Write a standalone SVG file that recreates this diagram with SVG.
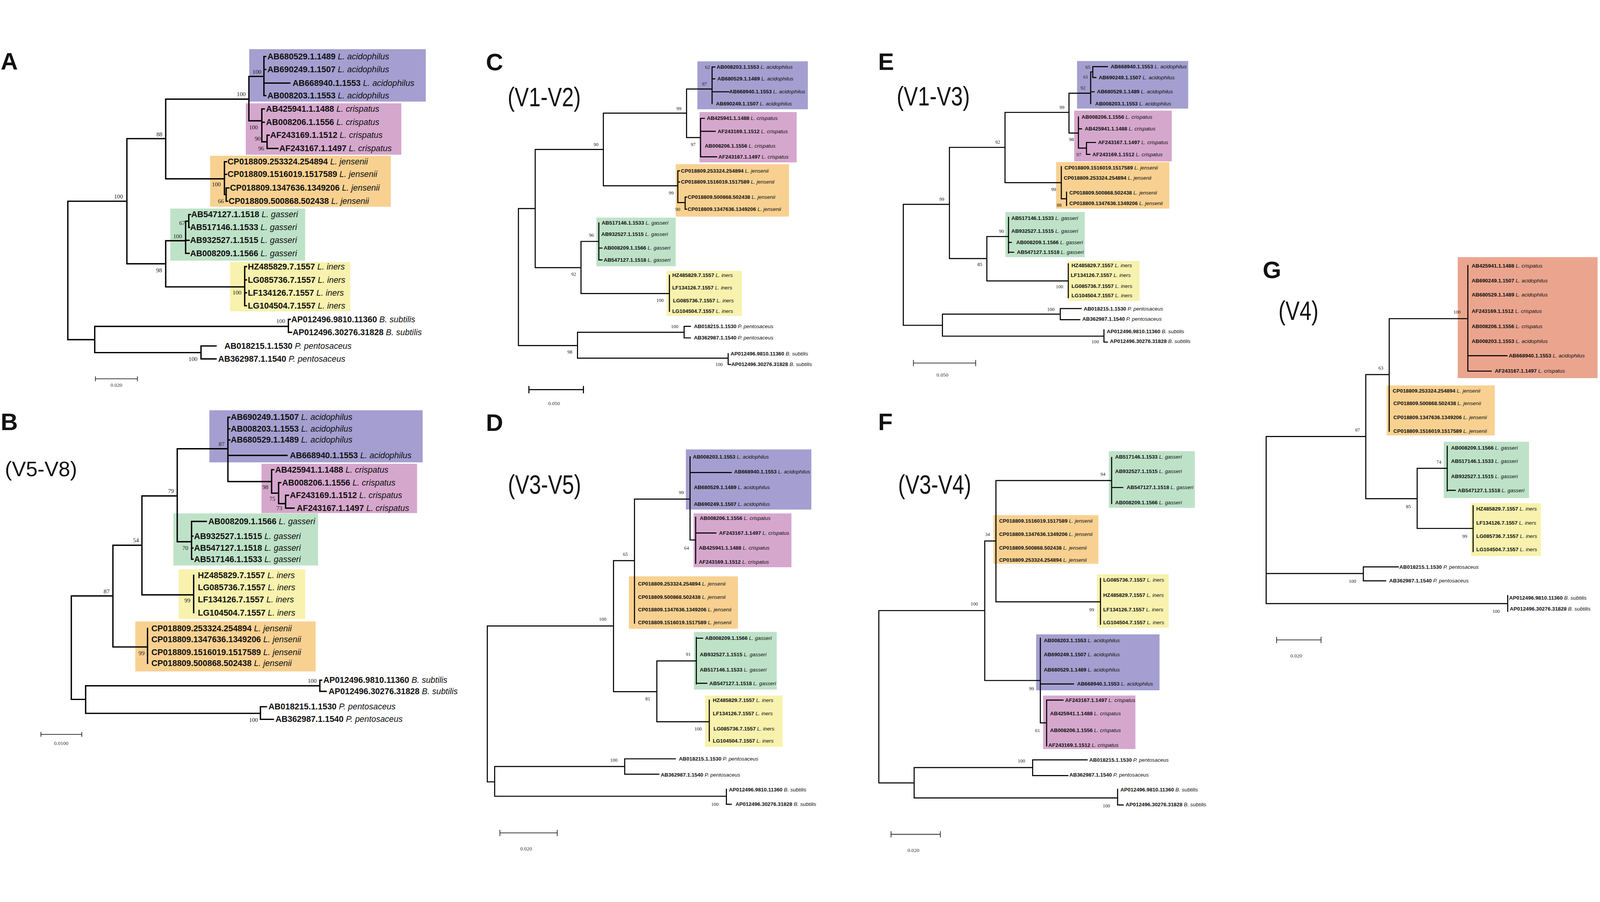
<svg xmlns="http://www.w3.org/2000/svg" width="4577" height="2309" viewBox="0 0 4577 2309">
<style>
svg{width:100vw;height:100vh}
text{font-family:"Liberation Sans",Arial,sans-serif;fill:#111}
.a{font-weight:bold}
.s{font-style:italic}
.big text{font-size:24px}
.sm text{font-size:15px}
.bsA{font-family:"Liberation Serif","Times New Roman",serif;font-size:17px;text-anchor:middle;fill:#222}
.bsC{font-family:"Liberation Serif","Times New Roman",serif;font-size:14px;text-anchor:middle;fill:#222}
.tree{fill:none;stroke:#000;stroke-width:3.8;stroke-linecap:square}
.tree2{fill:none;stroke:#000;stroke-width:3;stroke-linecap:square}
.bar{fill:none;stroke:#222;stroke-width:2}
.lbl{font-size:68px;font-weight:bold}
.reg{font-size:76px}
.scl{font-family:"Liberation Serif",serif;font-size:15px;text-anchor:middle;fill:#333}
.pu{fill:#a49fd0}.pk{fill:#d6a7cd}.or{fill:#f8d191}.gr{fill:#bee2c8}.ye{fill:#f8f2ae}.sa{fill:#eba58e}
</style>
<rect width="4577" height="2309" fill="#fff"/>

<!-- ================= PANEL A ================= -->
<g id="panelA">
<text class="lbl" x="2" y="63">A</text>
<g id="A-acidophilus" class="big"><rect class="pu" x="713" y="5" width="505" height="150"/>
<text x="765" y="34"><tspan class="a">AB680529.1.1489</tspan> <tspan class="s">L. acidophilus</tspan></text>
<text x="765" y="71"><tspan class="a">AB690249.1.1507</tspan> <tspan class="s">L. acidophilus</tspan></text>
<text x="837" y="110"><tspan class="a">AB668940.1.1553</tspan> <tspan class="s">L. acidophilus</tspan></text>
<text x="765" y="146"><tspan class="a">AB008203.1.1553</tspan> <tspan class="s">L. acidophilus</tspan></text></g>
<g id="A-crispatus" class="big"><rect class="pk" x="703" y="160" width="445" height="147"/>
<text x="761" y="184"><tspan class="a">AB425941.1.1488</tspan> <tspan class="s">L. crispatus</tspan></text>
<text x="761" y="222"><tspan class="a">AB008206.1.1556</tspan> <tspan class="s">L. crispatus</tspan></text>
<text x="773" y="259"><tspan class="a">AF243169.1.1512</tspan> <tspan class="s">L. crispatus</tspan></text>
<text x="799" y="297"><tspan class="a">AF243167.1.1497</tspan> <tspan class="s">L. crispatus</tspan></text></g>
<g id="A-jensenii" class="big"><rect class="or" x="601" y="310" width="517" height="146"/>
<text x="651" y="335"><tspan class="a">CP018809.253324.254894</tspan> <tspan class="s">L. jensenii</tspan></text>
<text x="651" y="371"><tspan class="a">CP018809.1516019.1517589</tspan> <tspan class="s">L. jensenii</tspan></text>
<text x="658" y="410"><tspan class="a">CP018809.1347636.1349206</tspan> <tspan class="s">L. jensenii</tspan></text>
<text x="654" y="448"><tspan class="a">CP018809.500868.502438</tspan> <tspan class="s">L. jensenii</tspan></text></g>
<g id="A-gasseri" class="big"><rect class="gr" x="487" y="461" width="386" height="149"/>
<text x="547" y="486"><tspan class="a">AB547127.1.1518</tspan> <tspan class="s">L. gasseri</tspan></text>
<text x="544" y="523"><tspan class="a">AB517146.1.1533</tspan> <tspan class="s">L. gasseri</tspan></text>
<text x="544" y="560"><tspan class="a">AB932527.1.1515</tspan> <tspan class="s">L. gasseri</tspan></text>
<text x="544" y="597"><tspan class="a">AB008209.1.1566</tspan> <tspan class="s">L. gasseri</tspan></text></g>
<g id="A-iners" class="big"><rect class="ye" x="658" y="614" width="344" height="141"/>
<text x="709" y="635"><tspan class="a">HZ485829.7.1557</tspan> <tspan class="s">L. iners</tspan></text>
<text x="709" y="673"><tspan class="a">LG085736.7.1557</tspan> <tspan class="s">L. iners</tspan></text>
<text x="709" y="710"><tspan class="a">LF134126.7.1557</tspan> <tspan class="s">L. iners</tspan></text>
<text x="709" y="747"><tspan class="a">LG104504.7.1557</tspan> <tspan class="s">L. iners</tspan></text></g>
<g id="A-outgroup" class="big">
<text x="833" y="786"><tspan class="a">AP012496.9810.11360</tspan> <tspan class="s">B. subtilis</tspan></text>
<text x="837" y="823"><tspan class="a">AP012496.30276.31828</tspan> <tspan class="s">B. subtilis</tspan></text>
<text x="642" y="862"><tspan class="a">AB018215.1.1530</tspan> <tspan class="s">P. pentosaceus</tspan></text>
<text x="624" y="899"><tspan class="a">AB362987.1.1540</tspan> <tspan class="s">P. pentosaceus</tspan></text></g>
<g id="A-connectors"><path class="tree" d="M194 440V836M194 440H363M363 261V619M363 261H474M474 148V376M474 148H712M712 83V210M712 83H755M755 26V138M755 26H760M755 63H760M755 102H829M755 138H760M712 210H749M749 176V270M749 176H756M749 214H756M749 270H764M764 251V289M764 251H770M764 289H795M474 376H642M642 327V421M642 327H648M642 363H648M642 421H647M647 402V440M647 402H655M647 440H651M363 619H474M474 553V685M474 553H531M531 497V589M531 497H540M540 478V515M540 478H545M540 515H542M531 552H541M531 589H541M474 685H700M700 627V739M700 627H705M700 665H705M700 702H705M700 739H705M194 836H271M271 798V873M271 798H825M825 778V815M825 778H830M825 815H834M271 873H575M575 854V891M575 854H618M575 891H618"/></g>
<g id="A-bootstrap">
<text class="bsA" x="339" y="432">100</text><text class="bsA" x="456" y="254">88</text><text class="bsA" x="690" y="139">100</text><text class="bsA" x="735" y="76">100</text><text class="bsA" x="725" y="234">100</text><text class="bsA" x="737" y="267">90</text><text class="bsA" x="747" y="295">96</text><text class="bsA" x="619" y="398">100</text><text class="bsA" x="632" y="446">66</text><text class="bsA" x="521" y="508">67</text><text class="bsA" x="508" y="546">100</text><text class="bsA" x="455" y="643">98</text><text class="bsA" x="678" y="707">100</text><text class="bsA" x="803" y="789">100</text><text class="bsA" x="552" y="897">100</text></g>
<g id="A-scale"><path class="bar" d="M273 948H393M273 941V955M393 941V955"/><text class="scl" x="333" y="971">0.020</text></g>
</g>

<!-- ================= PANEL B ================= -->
<g id="panelB">
<text class="lbl" x="2" y="1095">B</text>
<text x="14" y="1227" font-size="60">(V5-V8)</text>
<g id="B-acidophilus" class="big"><rect class="pu" x="599" y="1038" width="610" height="149"/>
<text x="660" y="1066"><tspan class="a">AB690249.1.1507</tspan> <tspan class="s">L. acidophilus</tspan></text>
<text x="660" y="1099"><tspan class="a">AB008203.1.1553</tspan> <tspan class="s">L. acidophilus</tspan></text>
<text x="660" y="1131"><tspan class="a">AB680529.1.1489</tspan> <tspan class="s">L. acidophilus</tspan></text>
<text x="829" y="1175"><tspan class="a">AB668940.1.1553</tspan> <tspan class="s">L. acidophilus</tspan></text></g>
<g id="B-crispatus" class="big"><rect class="pk" x="748" y="1191" width="445" height="141"/>
<text x="787" y="1216"><tspan class="a">AB425941.1.1488</tspan> <tspan class="s">L. crispatus</tspan></text>
<text x="807" y="1253"><tspan class="a">AB008206.1.1556</tspan> <tspan class="s">L. crispatus</tspan></text>
<text x="829" y="1289"><tspan class="a">AF243169.1.1512</tspan> <tspan class="s">L. crispatus</tspan></text>
<text x="849" y="1326"><tspan class="a">AF243167.1.1497</tspan> <tspan class="s">L. crispatus</tspan></text></g>
<g id="B-gasseri" class="big"><rect class="gr" x="496" y="1333" width="414" height="149"/>
<text x="596" y="1364"><tspan class="a">AB008209.1.1566</tspan> <tspan class="s">L. gasseri</tspan></text>
<text x="555" y="1406"><tspan class="a">AB932527.1.1515</tspan> <tspan class="s">L. gasseri</tspan></text>
<text x="555" y="1440"><tspan class="a">AB547127.1.1518</tspan> <tspan class="s">L. gasseri</tspan></text>
<text x="555" y="1472"><tspan class="a">AB517146.1.1533</tspan> <tspan class="s">L. gasseri</tspan></text></g>
<g id="B-iners" class="big"><rect class="ye" x="511" y="1493" width="362" height="142"/>
<text x="566" y="1518"><tspan class="a">HZ485829.7.1557</tspan> <tspan class="s">L. iners</tspan></text>
<text x="566" y="1553"><tspan class="a">LG085736.7.1557</tspan> <tspan class="s">L. iners</tspan></text>
<text x="566" y="1588"><tspan class="a">LF134126.7.1557</tspan> <tspan class="s">L. iners</tspan></text>
<text x="566" y="1625"><tspan class="a">LG104504.7.1557</tspan> <tspan class="s">L. iners</tspan></text></g>
<g id="B-jensenii" class="big"><rect class="or" x="387" y="1642" width="516" height="143"/>
<text x="433" y="1670"><tspan class="a">CP018809.253324.254894</tspan> <tspan class="s">L. jensenii</tspan></text>
<text x="433" y="1701"><tspan class="a">CP018809.1347636.1349206</tspan> <tspan class="s">L. jensenii</tspan></text>
<text x="433" y="1738"><tspan class="a">CP018809.1516019.1517589</tspan> <tspan class="s">L. jensenii</tspan></text>
<text x="433" y="1770"><tspan class="a">CP018809.500868.502438</tspan> <tspan class="s">L. jensenii</tspan></text></g>
<g id="B-outgroup" class="big">
<text x="925" y="1818"><tspan class="a">AP012496.9810.11360</tspan> <tspan class="s">B. subtilis</tspan></text>
<text x="940" y="1850"><tspan class="a">AP012496.30276.31828</tspan> <tspan class="s">B. subtilis</tspan></text>
<text x="768" y="1894"><tspan class="a">AB018215.1.1530</tspan> <tspan class="s">P. pentosaceus</tspan></text>
<text x="788" y="1930"><tspan class="a">AB362987.1.1540</tspan> <tspan class="s">P. pentosaceus</tspan></text></g>
<g id="B-connectors"><path class="tree" d="M204 1569V1865M204 1569H323M323 1424V1715M323 1424H406M406 1283V1566M406 1283H507M507 1148V1414M507 1148H652M652 1058V1242M652 1058H657M652 1091H657M652 1123H657M652 1167H821M652 1242H777M777 1208V1275M777 1208H783M777 1275H797M797 1245V1305M797 1245H803M797 1305H817M817 1281V1318M817 1281H825M817 1318H841M507 1414H548M548 1356V1464M548 1356H590M548 1398H552M548 1432H552M548 1464H552M406 1566H554M554 1510V1617M323 1715H422M422 1662V1762M204 1865H245M245 1826V1905M245 1826H915M915 1810V1842M915 1810H920M915 1842H933M245 1905H745M745 1886V1922M745 1886H762M745 1922H782"/></g>
<g id="B-bootstrap">
<text class="bsA" x="305" y="1562">87</text><text class="bsA" x="389" y="1415">54</text><text class="bsA" x="489" y="1275">79</text><text class="bsA" x="634" y="1141">87</text><text class="bsA" x="759" y="1264">98</text><text class="bsA" x="779" y="1297">75</text><text class="bsA" x="799" y="1324">73</text><text class="bsA" x="530" y="1438">70</text><text class="bsA" x="536" y="1587">99</text><text class="bsA" x="405" y="1738">99</text><text class="bsA" x="893" y="1818">100</text><text class="bsA" x="725" y="1930">100</text></g>
<g id="B-scale"><path class="bar" d="M117 1965H234M117 1958V1972M234 1958V1972"/><text class="scl" x="175" y="1995">0.0100</text></g>
</g>

<!-- ================= PANEL C ================= -->
<g id="panelC">
<text class="lbl" x="1390" y="66">C</text>
<text class="reg" transform="translate(1452 168) scale(0.8 1)">(V1-V2)</text>
<g id="C-acidophilus" class="sm"><rect class="pu" x="1995" y="40" width="316" height="137"/>
<text x="2050" y="61"><tspan class="a">AB008203.1.1553</tspan> <tspan class="s">L. acidophilus</tspan></text>
<text x="2052" y="95"><tspan class="a">AB680529.1.1489</tspan> <tspan class="s">L. acidophilus</tspan></text>
<text x="2086" y="132"><tspan class="a">AB668940.1.1553</tspan> <tspan class="s">L. acidophilus</tspan></text>
<text x="2048" y="166"><tspan class="a">AB690249.1.1507</tspan> <tspan class="s">L. acidophilus</tspan></text></g>
<g id="C-crispatus" class="sm"><rect class="pk" x="2001" y="185" width="278" height="144"/>
<text x="2022" y="208"><tspan class="a">AB425941.1.1488</tspan> <tspan class="s">L. crispatus</tspan></text>
<text x="2053" y="245"><tspan class="a">AF243169.1.1512</tspan> <tspan class="s">L. crispatus</tspan></text>
<text x="2016" y="287"><tspan class="a">AB008206.1.1556</tspan> <tspan class="s">L. crispatus</tspan></text>
<text x="2055" y="318"><tspan class="a">AF243167.1.1497</tspan> <tspan class="s">L. crispatus</tspan></text></g>
<g id="C-jensenii" class="sm"><rect class="or" x="1933" y="334" width="324" height="150"/>
<text x="1948" y="358"><tspan class="a">CP018809.253324.254894</tspan> <tspan class="s">L. jensenii</tspan></text>
<text x="1948" y="390"><tspan class="a">CP018809.1516019.1517589</tspan> <tspan class="s">L. jensenii</tspan></text>
<text x="1967" y="433"><tspan class="a">CP018809.500868.502438</tspan> <tspan class="s">L. jensenii</tspan></text>
<text x="1967" y="468"><tspan class="a">CP018809.1347636.1349206</tspan> <tspan class="s">L. jensenii</tspan></text></g>
<g id="C-gasseri" class="sm"><rect class="gr" x="1706" y="487" width="227" height="139"/>
<text x="1721" y="507"><tspan class="a">AB517146.1.1533</tspan> <tspan class="s">L. gasseri</tspan></text>
<text x="1720" y="539"><tspan class="a">AB932527.1.1515</tspan> <tspan class="s">L. gasseri</tspan></text>
<text x="1727" y="579"><tspan class="a">AB008209.1.1566</tspan> <tspan class="s">L. gasseri</tspan></text>
<text x="1727" y="613"><tspan class="a">AB547127.1.1518</tspan> <tspan class="s">L. gasseri</tspan></text></g>
<g id="C-iners" class="sm"><rect class="ye" x="1907" y="639" width="215" height="129"/>
<text x="1923" y="657"><tspan class="a">HZ485829.7.1557</tspan> <tspan class="s">L. iners</tspan></text>
<text x="1923" y="692"><tspan class="a">LF134126.7.1557</tspan> <tspan class="s">L. iners</tspan></text>
<text x="1925" y="729"><tspan class="a">LG085736.7.1557</tspan> <tspan class="s">L. iners</tspan></text>
<text x="1923" y="760"><tspan class="a">LG104504.7.1557</tspan> <tspan class="s">L. iners</tspan></text></g>
<g id="C-outgroup" class="sm">
<text x="1985" y="803"><tspan class="a">AB018215.1.1530</tspan> <tspan class="s">P. pentosaceus</tspan></text>
<text x="1985" y="836"><tspan class="a">AB362987.1.1540</tspan> <tspan class="s">P. pentosaceus</tspan></text>
<text x="2090" y="881"><tspan class="a">AP012496.9810.11360</tspan> <tspan class="s">B. subtilis</tspan></text>
<text x="2092" y="912"><tspan class="a">AP012496.30276.31828</tspan> <tspan class="s">B. subtilis</tspan></text></g>
<g id="C-connectors"><path class="tree2" d="M1483 461V853M1483 461H1531M1531 292V630M1531 292H1726M1726 188V396M1726 188H1964M1964 119V258M1964 119H2037M2037 56V161M2037 56H2045M2037 90H2045M2037 127H2085M1964 258H2004M2004 203V313M2004 203H2015M2004 240H2046M2004 313H2050M1726 396H1939M1939 353V444M1939 353H1944M1939 385H1944M1939 444H1960M1960 428V463M1960 428H1964M1960 463H1964M1531 630H1662M1662 555V704M1662 555H1713M1713 502V608M1713 574H1722M1713 608H1722M1662 704H1915M1915 652V755M1483 853H1652M1652 815V889M1652 815H1957M1957 798V831M1957 798H1975M1957 831H1975M1652 889H2083M2083 876V907M2083 907H2090"/></g>
<g id="C-bootstrap">
<text class="bsC" x="1705" y="282">90</text><text class="bsC" x="1942" y="179">99</text><text class="bsC" x="2015" y="109">97</text><text class="bsC" x="2024" y="61">62</text><text class="bsC" x="1983" y="282">97</text><text class="bsC" x="1920" y="421">99</text><text class="bsC" x="1939" y="468">90</text><text class="bsC" x="1641" y="653">92</text><text class="bsC" x="1692" y="542">96</text><text class="bsC" x="1888" y="728">100</text><text class="bsC" x="1630" y="876">98</text><text class="bsC" x="1930" y="803">100</text><text class="bsC" x="2057" y="912">100</text></g>
<g id="C-scale"><path class="tree2" d="M1513 979H1669M1513 970V988M1669 970V988"/><text class="scl" x="1585" y="1023">0.050</text></g>
</g>

<!-- ================= PANEL D ================= -->
<g id="panelD">
<text class="lbl" x="1390" y="1097">D</text>
<text class="reg" transform="translate(1453 1277) scale(0.8 1)">(V3-V5)</text>
<g id="D-acidophilus" class="sm"><rect class="pu" x="1962" y="1150" width="359" height="172"/>
<text x="1982" y="1176"><tspan class="a">AB008203.1.1553</tspan> <tspan class="s">L. acidophilus</tspan></text>
<text x="2100" y="1219"><tspan class="a">AB668940.1.1553</tspan> <tspan class="s">L. acidophilus</tspan></text>
<text x="1985" y="1264"><tspan class="a">AB680529.1.1489</tspan> <tspan class="s">L. acidophilus</tspan></text>
<text x="1985" y="1311"><tspan class="a">AB690249.1.1507</tspan> <tspan class="s">L. acidophilus</tspan></text></g>
<g id="D-crispatus" class="sm"><rect class="pk" x="1984" y="1333" width="280" height="154"/>
<text x="2002" y="1352"><tspan class="a">AB008206.1.1556</tspan> <tspan class="s">L. crispatus</tspan></text>
<text x="2057" y="1394"><tspan class="a">AF243167.1.1497</tspan> <tspan class="s">L. crispatus</tspan></text>
<text x="1999" y="1437"><tspan class="a">AB425941.1.1488</tspan> <tspan class="s">L. crispatus</tspan></text>
<text x="1999" y="1477"><tspan class="a">AF243169.1.1512</tspan> <tspan class="s">L. crispatus</tspan></text></g>
<g id="D-jensenii" class="sm"><rect class="or" x="1799" y="1513" width="312" height="150"/>
<text x="1825" y="1539"><tspan class="a">CP018809.253324.254894</tspan> <tspan class="s">L. jensenii</tspan></text>
<text x="1825" y="1577"><tspan class="a">CP018809.500868.502438</tspan> <tspan class="s">L. jensenii</tspan></text>
<text x="1825" y="1613"><tspan class="a">CP018809.1347636.1349206</tspan> <tspan class="s">L. jensenii</tspan></text>
<text x="1825" y="1650"><tspan class="a">CP018809.1516019.1517589</tspan> <tspan class="s">L. jensenii</tspan></text></g>
<g id="D-gasseri" class="sm"><rect class="gr" x="1985" y="1672" width="237" height="165"/>
<text x="2017" y="1695"><tspan class="a">AB008209.1.1566</tspan> <tspan class="s">L. gasseri</tspan></text>
<text x="2002" y="1742"><tspan class="a">AB932527.1.1515</tspan> <tspan class="s">L. gasseri</tspan></text>
<text x="2002" y="1785"><tspan class="a">AB517146.1.1533</tspan> <tspan class="s">L. gasseri</tspan></text>
<text x="2029" y="1824"><tspan class="a">AB547127.1.1518</tspan> <tspan class="s">L. gasseri</tspan></text></g>
<g id="D-iners" class="sm"><rect class="ye" x="2017" y="1854" width="222" height="147"/>
<text x="2039" y="1872"><tspan class="a">HZ485829.7.1557</tspan> <tspan class="s">L. iners</tspan></text>
<text x="2039" y="1911"><tspan class="a">LF134126.7.1557</tspan> <tspan class="s">L. iners</tspan></text>
<text x="2041" y="1954"><tspan class="a">LG085736.7.1557</tspan> <tspan class="s">L. iners</tspan></text>
<text x="2039" y="1989"><tspan class="a">LG104504.7.1557</tspan> <tspan class="s">L. iners</tspan></text></g>
<g id="D-outgroup" class="sm">
<text x="1942" y="2040"><tspan class="a">AB018215.1.1530</tspan> <tspan class="s">P. pentosaceus</tspan></text>
<text x="1890" y="2086"><tspan class="a">AB362987.1.1540</tspan> <tspan class="s">P. pentosaceus</tspan></text>
<text x="2085" y="2128"><tspan class="a">AP012496.9810.11360</tspan> <tspan class="s">B. subtilis</tspan></text>
<text x="2104" y="2170"><tspan class="a">AP012496.30276.31828</tspan> <tspan class="s">B. subtilis</tspan></text></g>
<g id="D-connectors"><path class="tree2" d="M1394 1655V2101M1394 1655H1755M1755 1468V1843M1755 1468H1815M1815 1292V1647M1815 1292H1974M1974 1171V1409M1974 1216H2092M1974 1409H1990M1990 1344V1476M1990 1389H2048M1755 1843H1879M1879 1755V1929M1879 1755H1992M1992 1688V1821M1992 1690H2010M1992 1819H2022M1879 1929H2029M2029 1867V1984M1394 2101H1415M1415 2057V2142M1415 2057H1787M1787 2035V2079M1787 2035H1932M1787 2079H1885M1415 2142H2078M2078 2122V2165M2078 2165H2092"/></g>
<g id="D-bootstrap">
<text class="bsC" x="1724" y="1640">100</text><text class="bsC" x="1789" y="1455">65</text><text class="bsC" x="1949" y="1278">99</text><text class="bsC" x="1964" y="1437">64</text><text class="bsC" x="1853" y="1868">81</text><text class="bsC" x="1969" y="1741">91</text><text class="bsC" x="1997" y="1954">100</text><text class="bsC" x="1756" y="2043">100</text><text class="bsC" x="2045" y="2170">100</text></g>
<g id="D-scale"><path class="bar" d="M1430 2247H1594M1430 2238V2256M1594 2238V2256"/><text class="scl" x="1505" y="2297">0.020</text></g>
</g>

<!-- ================= PANEL E ================= -->
<g id="panelE">
<text class="lbl" x="2512" y="64">E</text>
<text class="reg" transform="translate(2565 166) scale(0.8 1)">(V1-V3)</text>
<g id="E-acidophilus" class="sm"><rect class="pu" x="3081" y="39" width="318" height="136"/>
<text x="3177" y="60"><tspan class="a">AB668940.1.1553</tspan> <tspan class="s">L. acidophilus</tspan></text>
<text x="3143" y="91"><tspan class="a">AB690249.1.1507</tspan> <tspan class="s">L. acidophilus</tspan></text>
<text x="3138" y="132"><tspan class="a">AB680529.1.1489</tspan> <tspan class="s">L. acidophilus</tspan></text>
<text x="3133" y="166"><tspan class="a">AB008203.1.1553</tspan> <tspan class="s">L. acidophilus</tspan></text></g>
<g id="E-crispatus" class="sm"><rect class="pk" x="3073" y="181" width="279" height="145"/>
<text x="3094" y="204"><tspan class="a">AB008206.1.1556</tspan> <tspan class="s">L. crispatus</tspan></text>
<text x="3103" y="238"><tspan class="a">AB425941.1.1488</tspan> <tspan class="s">L. crispatus</tspan></text>
<text x="3141" y="277"><tspan class="a">AF243167.1.1497</tspan> <tspan class="s">L. crispatus</tspan></text>
<text x="3125" y="311"><tspan class="a">AF243169.1.1512</tspan> <tspan class="s">L. crispatus</tspan></text></g>
<g id="E-jensenii" class="sm"><rect class="or" x="3021" y="328" width="324" height="133"/>
<text x="3045" y="349"><tspan class="a">CP018809.1516019.1517589</tspan> <tspan class="s">L. jensenii</tspan></text>
<text x="3043" y="378"><tspan class="a">CP018809.253324.254894</tspan> <tspan class="s">L. jensenii</tspan></text>
<text x="3059" y="421"><tspan class="a">CP018809.500868.502438</tspan> <tspan class="s">L. jensenii</tspan></text>
<text x="3059" y="451"><tspan class="a">CP018809.1347636.1349206</tspan> <tspan class="s">L. jensenii</tspan></text></g>
<g id="E-gasseri" class="sm"><rect class="gr" x="2876" y="471" width="227" height="129"/>
<text x="2893" y="494"><tspan class="a">AB517146.1.1533</tspan> <tspan class="s">L. gasseri</tspan></text>
<text x="2893" y="530"><tspan class="a">AB932527.1.1515</tspan> <tspan class="s">L. gasseri</tspan></text>
<text x="2907" y="563"><tspan class="a">AB008209.1.1566</tspan> <tspan class="s">L. gasseri</tspan></text>
<text x="2909" y="591"><tspan class="a">AB547127.1.1518</tspan> <tspan class="s">L. gasseri</tspan></text></g>
<g id="E-iners" class="sm"><rect class="ye" x="3055" y="611" width="205" height="114"/>
<text x="3065" y="629"><tspan class="a">HZ485829.7.1557</tspan> <tspan class="s">L. iners</tspan></text>
<text x="3063" y="657"><tspan class="a">LF134126.7.1557</tspan> <tspan class="s">L. iners</tspan></text>
<text x="3065" y="688"><tspan class="a">LG085736.7.1557</tspan> <tspan class="s">L. iners</tspan></text>
<text x="3065" y="715"><tspan class="a">LG104504.7.1557</tspan> <tspan class="s">L. iners</tspan></text></g>
<g id="E-outgroup" class="sm">
<text x="3100" y="753"><tspan class="a">AB018215.1.1530</tspan> <tspan class="s">P. pentosaceus</tspan></text>
<text x="3096" y="782"><tspan class="a">AB362987.1.1540</tspan> <tspan class="s">P. pentosaceus</tspan></text>
<text x="3166" y="818"><tspan class="a">AP012496.9810.11360</tspan> <tspan class="s">B. subtilis</tspan></text>
<text x="3175" y="845"><tspan class="a">AP012496.30276.31828</tspan> <tspan class="s">B. subtilis</tspan></text></g>
<g id="E-connectors"><path class="tree2" d="M2584 449V795M2584 449H2716M2716 286V604M2716 286H2875M2875 186V387M2875 186H3058M3058 131V245M3058 131H3120M3120 70V161M3120 70H3126M3126 55V86M3126 55H3168M3126 86H3135M3120 127H3130M3058 245H3085M3085 199V288M3085 233H3094M3085 288H3108M3108 272V306M3108 272H3134M3108 306H3118M2875 387H3036M3036 341V433M3036 433H3051M3051 414V452M2716 604H2823M2823 541V668M2823 541H2885M2885 486V588M2885 558H2893M2885 586H2900M2823 668H3056M3056 619V716M2584 795H2696M2696 763V826M2696 763H3033M3033 747V779M3033 747H3093M3033 779H3089M2696 826H3158M3158 808V843M3158 843H3168"/></g>
<g id="E-bootstrap">
<text class="bsC" x="2694" y="439">99</text><text class="bsC" x="2854" y="276">92</text><text class="bsC" x="3038" y="176">99</text><text class="bsC" x="3098" y="120">92</text><text class="bsC" x="3106" y="89">61</text><text class="bsC" x="3112" y="61">65</text><text class="bsC" x="3065" y="268">98</text><text class="bsC" x="3086" y="311">97</text><text class="bsC" x="3014" y="411">99</text><text class="bsC" x="3030" y="456">88</text><text class="bsC" x="2803" y="625">85</text><text class="bsC" x="2865" y="530">90</text><text class="bsC" x="3031" y="689">100</text><text class="bsC" x="3006" y="754">100</text><text class="bsC" x="3133" y="847">100</text></g>
<g id="E-scale"><path class="bar" d="M2613 903H2791M2613 894V912M2791 894V912"/><text class="scl" x="2696" y="942">0.050</text></g>
</g>

<!-- ================= PANEL F ================= -->
<g id="panelF">
<text class="lbl" x="2512" y="1095">F</text>
<text class="reg" transform="translate(2569 1277) scale(0.8 1)">(V3-V4)</text>
<g id="F-gasseri" class="sm"><rect class="gr" x="3172" y="1155" width="246" height="162"/>
<text x="3190" y="1176"><tspan class="a">AB517146.1.1533</tspan> <tspan class="s">L. gasseri</tspan></text>
<text x="3190" y="1218"><tspan class="a">AB932527.1.1515</tspan> <tspan class="s">L. gasseri</tspan></text>
<text x="3223" y="1264"><tspan class="a">AB547127.1.1518</tspan> <tspan class="s">L. gasseri</tspan></text>
<text x="3190" y="1307"><tspan class="a">AB008209.1.1566</tspan> <tspan class="s">L. gasseri</tspan></text></g>
<g id="F-jensenii" class="sm"><rect class="or" x="2842" y="1338" width="300" height="139"/>
<text x="2858" y="1360"><tspan class="a">CP018809.1516019.1517589</tspan> <tspan class="s">L. jensenii</tspan></text>
<text x="2858" y="1398"><tspan class="a">CP018809.1347636.1349206</tspan> <tspan class="s">L. jensenii</tspan></text>
<text x="2858" y="1437"><tspan class="a">CP018809.500868.502438</tspan> <tspan class="s">L. jensenii</tspan></text>
<text x="2858" y="1471"><tspan class="a">CP018809.253324.254894</tspan> <tspan class="s">L. jensenii</tspan></text></g>
<g id="F-iners" class="sm"><rect class="ye" x="3138" y="1507" width="205" height="153"/>
<text x="3156" y="1528"><tspan class="a">LG085736.7.1557</tspan> <tspan class="s">L. iners</tspan></text>
<text x="3156" y="1572"><tspan class="a">HZ485829.7.1557</tspan> <tspan class="s">L. iners</tspan></text>
<text x="3156" y="1613"><tspan class="a">LF134126.7.1557</tspan> <tspan class="s">L. iners</tspan></text>
<text x="3156" y="1650"><tspan class="a">LG104504.7.1557</tspan> <tspan class="s">L. iners</tspan></text></g>
<g id="F-acidophilus" class="sm"><rect class="pu" x="2964" y="1679" width="353" height="160"/>
<text x="2986" y="1701"><tspan class="a">AB008203.1.1553</tspan> <tspan class="s">L. acidophilus</tspan></text>
<text x="2986" y="1742"><tspan class="a">AB690249.1.1507</tspan> <tspan class="s">L. acidophilus</tspan></text>
<text x="2986" y="1785"><tspan class="a">AB680529.1.1489</tspan> <tspan class="s">L. acidophilus</tspan></text>
<text x="3081" y="1826"><tspan class="a">AB668940.1.1553</tspan> <tspan class="s">L. acidophilus</tspan></text></g>
<g id="F-crispatus" class="sm"><rect class="pk" x="2984" y="1854" width="264" height="153"/>
<text x="3047" y="1872"><tspan class="a">AF243167.1.1497</tspan> <tspan class="s">L. crispatus</tspan></text>
<text x="3004" y="1911"><tspan class="a">AB425941.1.1488</tspan> <tspan class="s">L. crispatus</tspan></text>
<text x="3004" y="1958"><tspan class="a">AB008206.1.1556</tspan> <tspan class="s">L. crispatus</tspan></text>
<text x="2999" y="2001"><tspan class="a">AF243169.1.1512</tspan> <tspan class="s">L. crispatus</tspan></text></g>
<g id="F-outgroup" class="sm">
<text x="3116" y="2043"><tspan class="a">AB018215.1.1530</tspan> <tspan class="s">P. pentosaceus</tspan></text>
<text x="3059" y="2086"><tspan class="a">AB362987.1.1540</tspan> <tspan class="s">P. pentosaceus</tspan></text>
<text x="3205" y="2128"><tspan class="a">AP012496.9810.11360</tspan> <tspan class="s">B. subtilis</tspan></text>
<text x="3220" y="2171"><tspan class="a">AP012496.30276.31828</tspan> <tspan class="s">B. subtilis</tspan></text></g>
<g id="F-connectors"><path class="tree2" d="M2514 1611V2104M2514 1611H2817M2817 1412V1811M2817 1412H2849M2849 1239V1586M2849 1239H3180M3180 1173V1305M3180 1259H3212M2849 1586H3148M3148 1519V1650M2817 1811H2976M2976 1690V1932M2976 1821H3071M2976 1932H2994M2994 1867V1998M2994 1867H3041M2514 2104H2615M2615 2060V2147M2615 2060H2954M2954 2038V2083M2954 2038H3110M2954 2083H3055M2615 2147H3197M3197 2122V2167M3197 2167H3213"/></g>
<g id="F-bootstrap">
<text class="bsC" x="2787" y="1597">100</text><text class="bsC" x="2825" y="1398">34</text><text class="bsC" x="3155" y="1225">94</text><text class="bsC" x="3123" y="1613">99</text><text class="bsC" x="2951" y="1839">99</text><text class="bsC" x="2968" y="1958">61</text><text class="bsC" x="2922" y="2046">100</text><text class="bsC" x="3165" y="2174">100</text></g>
<g id="F-scale"><path class="bar" d="M2549 2251H2690M2549 2242V2260M2690 2242V2260"/><text class="scl" x="2613" y="2302">0.020</text></g>
</g>

<!-- ================= PANEL G ================= -->
<g id="panelG">
<text class="lbl" x="3612" y="660">G</text>
<text class="reg" transform="translate(3657 780) scale(0.8 1)">(V4)</text>
<g id="G-acid-crisp" class="sm"><rect class="sa" x="4170" y="600" width="400" height="346"/>
<text x="4210" y="630"><tspan class="a">AB425941.1.1488</tspan> <tspan class="s">L. crispatus</tspan></text>
<text x="4210" y="672"><tspan class="a">AB690249.1.1507</tspan> <tspan class="s">L. acidophilus</tspan></text>
<text x="4210" y="713"><tspan class="a">AB680529.1.1489</tspan> <tspan class="s">L. acidophilus</tspan></text>
<text x="4210" y="760"><tspan class="a">AF243169.1.1512</tspan> <tspan class="s">L. crispatus</tspan></text>
<text x="4210" y="803"><tspan class="a">AB008206.1.1556</tspan> <tspan class="s">L. crispatus</tspan></text>
<text x="4210" y="845"><tspan class="a">AB008203.1.1553</tspan> <tspan class="s">L. acidophilus</tspan></text>
<text x="4316" y="887"><tspan class="a">AB668940.1.1553</tspan> <tspan class="s">L. acidophilus</tspan></text>
<text x="4276" y="931"><tspan class="a">AF243167.1.1497</tspan> <tspan class="s">L. crispatus</tspan></text></g>
<g id="G-jensenii" class="sm"><rect class="or" x="3967" y="967" width="309" height="143"/>
<text x="3984" y="987"><tspan class="a">CP018809.253324.254894</tspan> <tspan class="s">L. jensenii</tspan></text>
<text x="3986" y="1023"><tspan class="a">CP018809.500868.502438</tspan> <tspan class="s">L. jensenii</tspan></text>
<text x="3986" y="1063"><tspan class="a">CP018809.1347636.1349206</tspan> <tspan class="s">L. jensenii</tspan></text>
<text x="3986" y="1103"><tspan class="a">CP018809.1516019.1517589</tspan> <tspan class="s">L. jensenii</tspan></text></g>
<g id="G-gasseri" class="sm"><rect class="gr" x="4130" y="1128" width="244" height="161"/>
<text x="4151" y="1151"><tspan class="a">AB008209.1.1566</tspan> <tspan class="s">L. gasseri</tspan></text>
<text x="4151" y="1189"><tspan class="a">AB517146.1.1533</tspan> <tspan class="s">L. gasseri</tspan></text>
<text x="4151" y="1232"><tspan class="a">AB932527.1.1515</tspan> <tspan class="s">L. gasseri</tspan></text>
<text x="4170" y="1272"><tspan class="a">AB547127.1.1518</tspan> <tspan class="s">L. gasseri</tspan></text></g>
<g id="G-iners" class="sm"><rect class="ye" x="4208" y="1304" width="200" height="151"/>
<text x="4223" y="1325"><tspan class="a">HZ485829.7.1557</tspan> <tspan class="s">L. iners</tspan></text>
<text x="4223" y="1365"><tspan class="a">LF134126.7.1557</tspan> <tspan class="s">L. iners</tspan></text>
<text x="4223" y="1403"><tspan class="a">LG085736.7.1557</tspan> <tspan class="s">L. iners</tspan></text>
<text x="4223" y="1441"><tspan class="a">LG104504.7.1557</tspan> <tspan class="s">L. iners</tspan></text></g>
<g id="G-outgroup" class="sm">
<text x="4003" y="1491"><tspan class="a">AB018215.1.1530</tspan> <tspan class="s">P. pentosaceus</tspan></text>
<text x="3974" y="1531"><tspan class="a">AB362987.1.1540</tspan> <tspan class="s">P. pentosaceus</tspan></text>
<text x="4317" y="1580"><tspan class="a">AP012496.9810.11360</tspan> <tspan class="s">B. subtilis</tspan></text>
<text x="4319" y="1611"><tspan class="a">AP012496.30276.31828</tspan> <tspan class="s">B. subtilis</tspan></text></g>
<g id="G-connectors"><path class="tree2" d="M3622 1113V1591M3622 1113H3907M3907 936V1291M3907 936H3974M3974 776V1098M3974 776H4199M4199 624V926M4199 882H4311M4199 926H4266M3907 1291H4054M4054 1204V1376M4054 1204H4140M4140 1141V1269M4140 1267H4163M4054 1376H4214M4214 1311V1442M3622 1505H3900M3900 1486V1526M3900 1486H4000M3900 1526H3964M3622 1591H4313M4313 1568V1613"/></g>
<g id="G-bootstrap">
<text class="bsC" x="3883" y="1099">97</text><text class="bsC" x="3950" y="922">63</text><text class="bsC" x="4168" y="762">100</text><text class="bsC" x="4029" y="1318">85</text><text class="bsC" x="4116" y="1191">74</text><text class="bsC" x="4190" y="1403">99</text><text class="bsC" x="3869" y="1532">100</text><text class="bsC" x="4280" y="1618">100</text></g>
<g id="G-scale"><path class="bar" d="M3652 1695H3779M3652 1686V1704M3779 1686V1704"/><text class="scl" x="3708" y="1745">0.020</text></g>
</g>
</svg>
